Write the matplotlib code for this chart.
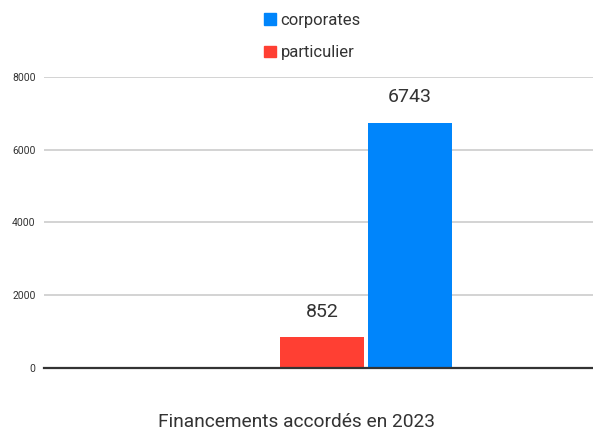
import numpy as np
import matplotlib.pyplot as plt
import matplotlib
from matplotlib.patches import Patch

matplotlib.rcParams['font.family'] = ['Roboto', 'DejaVu Sans']

series = ["particulier", "corporates"]
values = [852, 6743]
colors = ["#ff3f33", "#0085fb"]
yticks = [0, 2000, 4000, 6000, 8000]
xlabel = "Financements accordés en 2023"

fig = plt.figure(figsize=(5.93, 4.32), dpi=100, facecolor="white")
ax = fig.add_axes([0.0742, 0.148, 0.9258, 0.674])

w = 0.153  # largeur d'une barre
gap = 0.0073
center = 0.0865  # centre du groupe
xs = [center - w / 2 - gap / 2, center + w / 2 + gap / 2]

bars = ax.bar(xs, values, width=w, color=colors, zorder=3)
for b, v in zip(bars, values):
    ax.text(b.get_x() + b.get_width() / 2, v + 450, str(v), ha="center", va="bottom",
            fontsize=14, color="#333333")

ax.set_xlim(-0.5, 0.5)
ax.set_ylim(0, 8000)
ax.set_yticks(yticks)
ax.set_yticklabels([str(t) for t in yticks], fontsize=7.5, color="#333333")
ax.set_xticks([])
ax.tick_params(axis="y", length=0, pad=6)
ax.grid(axis="y", color="#cccccc", linewidth=1.2, zorder=0)
for s in ["top", "right", "left"]:
    ax.spines[s].set_visible(False)
ax.spines["bottom"].set_color("#333333")
ax.spines["bottom"].set_linewidth(1.6)
ax.spines["bottom"].set_zorder(4)

fig.text(0.5, 0.003, xlabel, ha="center", va="bottom", fontsize=13.8, color="#333333")

handles = [Patch(color=colors[1], label=series[1]), Patch(color=colors[0], label=series[0])]
fig.legend(handles=handles, loc="upper left", bbox_to_anchor=(0.42, 1.005), frameon=False,
           fontsize=12, handlelength=0.7, handleheight=0.7, handletextpad=0.3,
           labelspacing=1.05, labelcolor="#333333")

plt.savefig("out.png", dpi=100, facecolor="white")
